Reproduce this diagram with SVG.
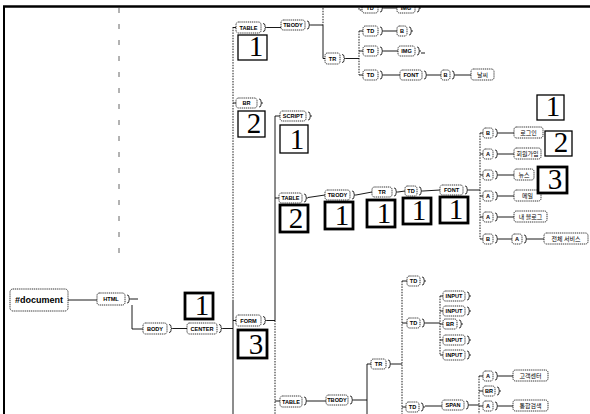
<svg xmlns="http://www.w3.org/2000/svg" xmlns:xlink="http://www.w3.org/1999/xlink" width="590" height="414" viewBox="0 0 590 414">
<style>
.n rect{fill:#fff;stroke:#000;stroke-width:0.8;stroke-dasharray:1.2 0.7}
.n text{font-family:"Liberation Sans",Arial,sans-serif;font-size:5.6px;font-weight:bold;text-anchor:middle;fill:#000}
.k text{font-family:"Noto Sans CJK KR",sans-serif;font-size:6px;font-weight:normal}
.b rect{fill:#fff;stroke:#000}
.b.thin rect{stroke-width:1.3}
.b.thick rect{stroke-width:2.8}
.b text{font-family:"Liberation Serif","Times New Roman",serif;font-size:29px;text-anchor:middle;fill:#000}
#connectors path,#connectors line{fill:none;stroke:#000;stroke-width:0.9}
#connectors .dot{stroke-dasharray:1.5 1.2}
</style>
<defs>
<path id="br" d="M0,-4 q2,0 2,2 v1.2 q0,0.8 1.6,0.8 q-1.6,0 -1.6,0.8 v1.2 q0,2 -2,2" fill="none" stroke="#000" stroke-width="0.8"/>
</defs>
<rect width="590" height="414" fill="#fff"/>

<line x1="119" y1="8" x2="119" y2="262" stroke="#666" stroke-width="1" stroke-dasharray="5 11"/>

<g id="connectors">
<path d="M68,300 H97"/>
<use xlink:href="#br" x="127" y="299"/>
<path d="M131,299 H138"/>
<path d="M132,305 V329 H143"/>
<use xlink:href="#br" x="169" y="328.5"/>
<path d="M173,328.5 H187"/>
<use xlink:href="#br" x="219" y="328.5"/>
<path d="M223,328.5 H233"/>
<path class="dot" d="M233,27 V300"/>
<path d="M233,300 V414"/>
<path d="M233,27.5 H236 M233,103 H236 M233,320.5 H236"/>
<use xlink:href="#br" x="263" y="27.5"/>
<path d="M267,27.5 H281"/>
<use xlink:href="#br" x="307" y="25"/>
<path d="M311,25 H323"/>
<path class="dot" d="M323,0 V25"/>
<path d="M323,25 V58.5 H325"/>
<path class="dot" d="M359,0 V10 H362"/>
<use xlink:href="#br" x="380" y="8"/>
<path d="M384,8 H397"/>
<use xlink:href="#br" x="417" y="8"/>
<use xlink:href="#br" x="342" y="58.5"/>
<path d="M346,58.5 H359"/>
<path class="dot" d="M359,31 V75"/>
<path d="M359,31 H363 M359,51 H363 M359,75 H363"/>
<use xlink:href="#br" x="380" y="31"/>
<path d="M384,31 H397"/>
<use xlink:href="#br" x="409" y="31"/>
<use xlink:href="#br" x="380" y="51"/>
<path d="M384,51 H398"/>
<use xlink:href="#br" x="417" y="51"/>
<path d="M421,53 H425"/>
<use xlink:href="#br" x="380" y="75"/>
<path d="M384,75 H400"/>
<use xlink:href="#br" x="424" y="75"/>
<path d="M428,75 H441"/>
<use xlink:href="#br" x="452" y="75"/>
<path d="M456,75 H471"/>
<use xlink:href="#br" x="259" y="103"/>
<use xlink:href="#br" x="263" y="320.5"/>
<path d="M267,320.5 H275"/>
<path d="M275,116 V320.5"/>
<path class="dot" d="M275,320.5 V414"/>
<path d="M275,116 H280 M275,198 H279 M275,401 H280"/>
<use xlink:href="#br" x="308" y="116"/>
<use xlink:href="#br" x="304" y="198"/>
<path d="M308,197.5 L325,195"/>
<use xlink:href="#br" x="352" y="195"/>
<path d="M356,195 L372,192"/>
<use xlink:href="#br" x="394" y="192"/>
<path d="M398,192 L405,191"/>
<use xlink:href="#br" x="419" y="191"/>
<path d="M423,191 L440,190"/>
<use xlink:href="#br" x="465" y="190"/>
<path d="M469,190 H480"/>
<path class="dot" d="M480,133 V239"/>
<path d="M480,133 H483 M480,154 H483 M480,175 H483 M480,196 H483 M480,217 H483 M480,239 H483"/>
<use xlink:href="#br" x="495" y="133"/>
<path d="M499,133 H514"/>
<use xlink:href="#br" x="495" y="154"/>
<path d="M499,154 H514"/>
<use xlink:href="#br" x="495" y="175"/>
<path d="M499,175 H514"/>
<use xlink:href="#br" x="495" y="196"/>
<path d="M499,196 H514"/>
<use xlink:href="#br" x="495" y="217"/>
<path d="M499,217 H514"/>
<use xlink:href="#br" x="495" y="239"/>
<path d="M499,239 H512"/>
<use xlink:href="#br" x="524" y="239"/>
<path d="M528,239 H544"/>
<use xlink:href="#br" x="304" y="401"/>
<path d="M308,401 H326"/>
<use xlink:href="#br" x="350" y="400"/>
<path d="M354,400 H367"/>
<path d="M367,364 V414 M367,364 H371"/>
<use xlink:href="#br" x="388" y="364"/>
<path d="M392,364 H402"/>
<path class="dot" d="M402,281 V414"/>
<path d="M402,281 H407 M402,323 H407 M402,407 H406"/>
<use xlink:href="#br" x="422" y="281"/>
<use xlink:href="#br" x="422" y="323"/>
<path d="M426,323 H440"/>
<path class="dot" d="M440,296 V355"/>
<path d="M440,296 H443 M440,311 H443 M440,324 H443 M440,340 H443 M440,355 H443"/>
<use xlink:href="#br" x="467" y="296"/>
<use xlink:href="#br" x="467" y="311"/>
<use xlink:href="#br" x="459" y="324"/>
<use xlink:href="#br" x="467" y="340"/>
<use xlink:href="#br" x="467" y="355"/>
<use xlink:href="#br" x="421" y="407"/>
<path d="M425,406 H442"/>
<use xlink:href="#br" x="466" y="405"/>
<path d="M470,405 H479"/>
<path class="dot" d="M479,376 V414"/>
<path d="M479,376 H483 M479,391 H483 M479,406 H483"/>
<use xlink:href="#br" x="495" y="376"/>
<path d="M499,376 H513"/>
<use xlink:href="#br" x="497" y="391"/>
<use xlink:href="#br" x="495" y="406"/>
<path d="M499,406 H513"/>
</g>

<g id="document" class="n"><rect x="10" y="289" width="58" height="22" rx="3"/><text x="39" y="303" style="font-size:9px">#document</text></g>
<g id="html" class="n"><rect x="97" y="293" width="28" height="12" rx="2.5"/><text x="111" y="301.2">HTML</text></g>
<g id="body" class="n"><rect x="143" y="323" width="24" height="11" rx="2.5"/><text x="155" y="330.6">BODY</text></g>
<g id="center" class="n"><rect x="187" y="323" width="30" height="11" rx="2.5"/><text x="202" y="330.6">CENTER</text></g>

<g id="table1" class="n"><rect x="236" y="22" width="25" height="11" rx="2.5"/><text x="248.5" y="29.6">TABLE</text></g>
<g id="tbody1" class="n"><rect x="281" y="20" width="24" height="10" rx="2.5"/><text x="293" y="27.1">TBODY</text></g>
<g id="td0" class="n"><rect x="362" y="2" width="16" height="11" rx="2.5"/><text x="370" y="10">TD</text></g>
<g id="img0" class="n"><rect x="397" y="2" width="18" height="11" rx="2.5"/><text x="406" y="10">IMG</text></g>
<g id="tr1" class="n"><rect x="325" y="53" width="15" height="11" rx="2.5"/><text x="332.5" y="60.6">TR</text></g>
<g id="td1" class="n"><rect x="363" y="26" width="15" height="10" rx="2.5"/><text x="370.5" y="33.1">TD</text></g>
<g id="b1" class="n"><rect x="397" y="26" width="10" height="10" rx="2.5"/><text x="402" y="33.1">B</text></g>
<g id="td2" class="n"><rect x="363" y="46" width="15" height="10" rx="2.5"/><text x="370.5" y="53.1">TD</text></g>
<g id="img1" class="n"><rect x="398" y="46" width="17" height="10" rx="2.5"/><text x="406.5" y="53.1">IMG</text></g>
<g id="td3" class="n"><rect x="363" y="70" width="15" height="10" rx="2.5"/><text x="370.5" y="77.1">TD</text></g>
<g id="font1" class="n"><rect x="400" y="70" width="22" height="10" rx="2.5"/><text x="411" y="77.1">FONT</text></g>
<g id="b2" class="n"><rect x="441" y="70" width="9" height="10" rx="2.5"/><text x="445.5" y="77.1">B</text></g>
<g id="t0" class="n k"><rect x="471" y="69" width="23" height="11" rx="2.5"/><text x="482.5" y="77">날씨</text></g>

<g id="br1" class="n"><rect x="236" y="98" width="21" height="10" rx="2.5"/><text x="246.5" y="105.1">BR</text></g>
<g id="form" class="n"><rect x="236" y="315" width="25" height="11" rx="2.5"/><text x="248.5" y="322.6">FORM</text></g>
<g id="script" class="n"><rect x="280" y="111" width="26" height="10" rx="2.5"/><text x="293" y="118.1">SCRIPT</text></g>

<g id="table2" class="n"><rect x="279" y="193" width="23" height="10" rx="2.5"/><text x="290.5" y="200.1">TABLE</text></g>
<g id="tbody2" class="n"><rect x="325" y="190" width="25" height="10" rx="2.5"/><text x="337.5" y="197.1">TBODY</text></g>
<g id="tr2" class="n"><rect x="372" y="187" width="20" height="10" rx="2.5"/><text x="382" y="194.1">TR</text></g>
<g id="td4" class="n"><rect x="405" y="186" width="12" height="10" rx="2.5"/><text x="411" y="193.1">TD</text></g>
<g id="font2" class="n"><rect x="440" y="185" width="23" height="10" rx="2.5"/><text x="451.5" y="192.1">FONT</text></g>

<g id="b3" class="n"><rect x="483" y="128" width="10" height="10" rx="2.5"/><text x="488" y="135.1">B</text></g>
<g id="t1" class="n k"><rect x="514" y="127" width="29" height="11" rx="2.5"/><text x="528.5" y="135">로그인</text></g>
<g id="a1" class="n"><rect x="483" y="149" width="10" height="10" rx="2.5"/><text x="488" y="156.1">A</text></g>
<g id="t2" class="n k"><rect x="514" y="148" width="27" height="11" rx="2.5"/><text x="527.5" y="156">회원가입</text></g>
<g id="a2" class="n"><rect x="483" y="170" width="10" height="10" rx="2.5"/><text x="488" y="177.1">A</text></g>
<g id="t3" class="n k"><rect x="514" y="169" width="20" height="11" rx="2.5"/><text x="524" y="177">뉴스</text></g>
<g id="a3" class="n"><rect x="483" y="191" width="10" height="10" rx="2.5"/><text x="488" y="198.1">A</text></g>
<g id="t4" class="n k"><rect x="514" y="190" width="27" height="11" rx="2.5"/><text x="527.5" y="198">메일</text></g>
<g id="a4" class="n"><rect x="483" y="212" width="10" height="10" rx="2.5"/><text x="488" y="219.1">A</text></g>
<g id="t5" class="n k"><rect x="514" y="211" width="33" height="11" rx="2.5"/><text x="530.5" y="219">내 블로그</text></g>
<g id="b4" class="n"><rect x="483" y="234" width="10" height="10" rx="2.5"/><text x="488" y="241.1">B</text></g>
<g id="a5" class="n"><rect x="512" y="234" width="10" height="10" rx="2.5"/><text x="517" y="241.1">A</text></g>
<g id="t6" class="n k"><rect x="544" y="233" width="44" height="11" rx="2.5"/><text x="566" y="241">전체 서비스</text></g>

<g id="table3" class="n"><rect x="280" y="396" width="22" height="11" rx="2.5"/><text x="291" y="403.6">TABLE</text></g>
<g id="tbody3" class="n"><rect x="326" y="395" width="22" height="10" rx="2.5"/><text x="337" y="402.1">TBODY</text></g>
<g id="tr3" class="n"><rect x="371" y="359" width="15" height="10" rx="2.5"/><text x="378.5" y="366.1">TR</text></g>
<g id="td5" class="n"><rect x="407" y="276" width="13" height="10" rx="2.5"/><text x="413.5" y="283.1">TD</text></g>
<g id="td6" class="n"><rect x="407" y="318" width="13" height="10" rx="2.5"/><text x="413.5" y="325.1">TD</text></g>
<g id="input1" class="n"><rect x="443" y="291" width="22" height="10" rx="2.5"/><text x="454" y="298.1">INPUT</text></g>
<g id="input2" class="n"><rect x="443" y="306" width="22" height="10" rx="2.5"/><text x="454" y="313.1">INPUT</text></g>
<g id="br2" class="n"><rect x="443" y="319" width="14" height="10" rx="2.5"/><text x="450" y="326.1">BR</text></g>
<g id="input3" class="n"><rect x="443" y="335" width="22" height="10" rx="2.5"/><text x="454" y="342.1">INPUT</text></g>
<g id="input4" class="n"><rect x="443" y="350" width="22" height="10" rx="2.5"/><text x="454" y="357.1">INPUT</text></g>
<g id="td7" class="n"><rect x="406" y="402" width="13" height="10" rx="2.5"/><text x="412.5" y="409.1">TD</text></g>
<g id="span" class="n"><rect x="442" y="400" width="22" height="10" rx="2.5"/><text x="453" y="407.1">SPAN</text></g>
<g id="a6" class="n"><rect x="483" y="371" width="10" height="10" rx="2.5"/><text x="488" y="378.1">A</text></g>
<g id="t7" class="n k"><rect x="513" y="370" width="35" height="11" rx="2.5"/><text x="530.5" y="378">고객센터</text></g>
<g id="br3" class="n"><rect x="483" y="386" width="12" height="10" rx="2.5"/><text x="489" y="393.1">BR</text></g>
<g id="a7" class="n"><rect x="483" y="401" width="10" height="10" rx="2.5"/><text x="488" y="408.1">A</text></g>
<g id="t8" class="n k"><rect x="513" y="400" width="35" height="11" rx="2.5"/><text x="530.5" y="408">통합검색</text></g>

<g id="box-center" class="b thick"><rect x="185" y="293" width="28" height="26"/><text x="202" y="315">1</text></g>
<g id="box-table1" class="b thin"><rect x="238" y="35" width="29" height="25"/><text x="256" y="56">1</text></g>
<g id="box-br1" class="b thin"><rect x="238" y="111" width="27" height="26"/><text x="254" y="133">2</text></g>
<g id="box-form" class="b thick"><rect x="238" y="330" width="29" height="28"/><text x="256" y="354">3</text></g>
<g id="box-script" class="b thin"><rect x="280" y="125" width="28" height="28"/><text x="297" y="149">1</text></g>
<g id="box-table2" class="b thick"><rect x="280" y="205" width="28" height="27"/><text x="296" y="228">2</text></g>
<g id="box-tbody2" class="b thick"><rect x="325" y="202" width="28" height="27"/><text x="342" y="225">1</text></g>
<g id="box-tr2" class="b thick"><rect x="367" y="200" width="28" height="27"/><text x="384" y="223">1</text></g>
<g id="box-td4" class="b thick"><rect x="403" y="198" width="28" height="26"/><text x="419" y="220">1</text></g>
<g id="box-font2" class="b thick"><rect x="440" y="197" width="28" height="26"/><text x="456" y="219">1</text></g>
<g id="box-r1" class="b thin"><rect x="537" y="95" width="27" height="25"/><text x="553" y="116">1</text></g>
<g id="box-r2" class="b thin"><rect x="545" y="131" width="27" height="25"/><text x="561" y="152">2</text></g>
<g id="box-r3" class="b thick"><rect x="538" y="167" width="29" height="26"/><text x="555" y="189">3</text></g>

<rect x="0" y="0" width="590" height="6" fill="#fff"/>
<line x1="3" y1="6.5" x2="590" y2="6.5" stroke="#000" stroke-width="2.5"/>
<line x1="4" y1="6" x2="4" y2="414" stroke="#000" stroke-width="2"/>
</svg>
